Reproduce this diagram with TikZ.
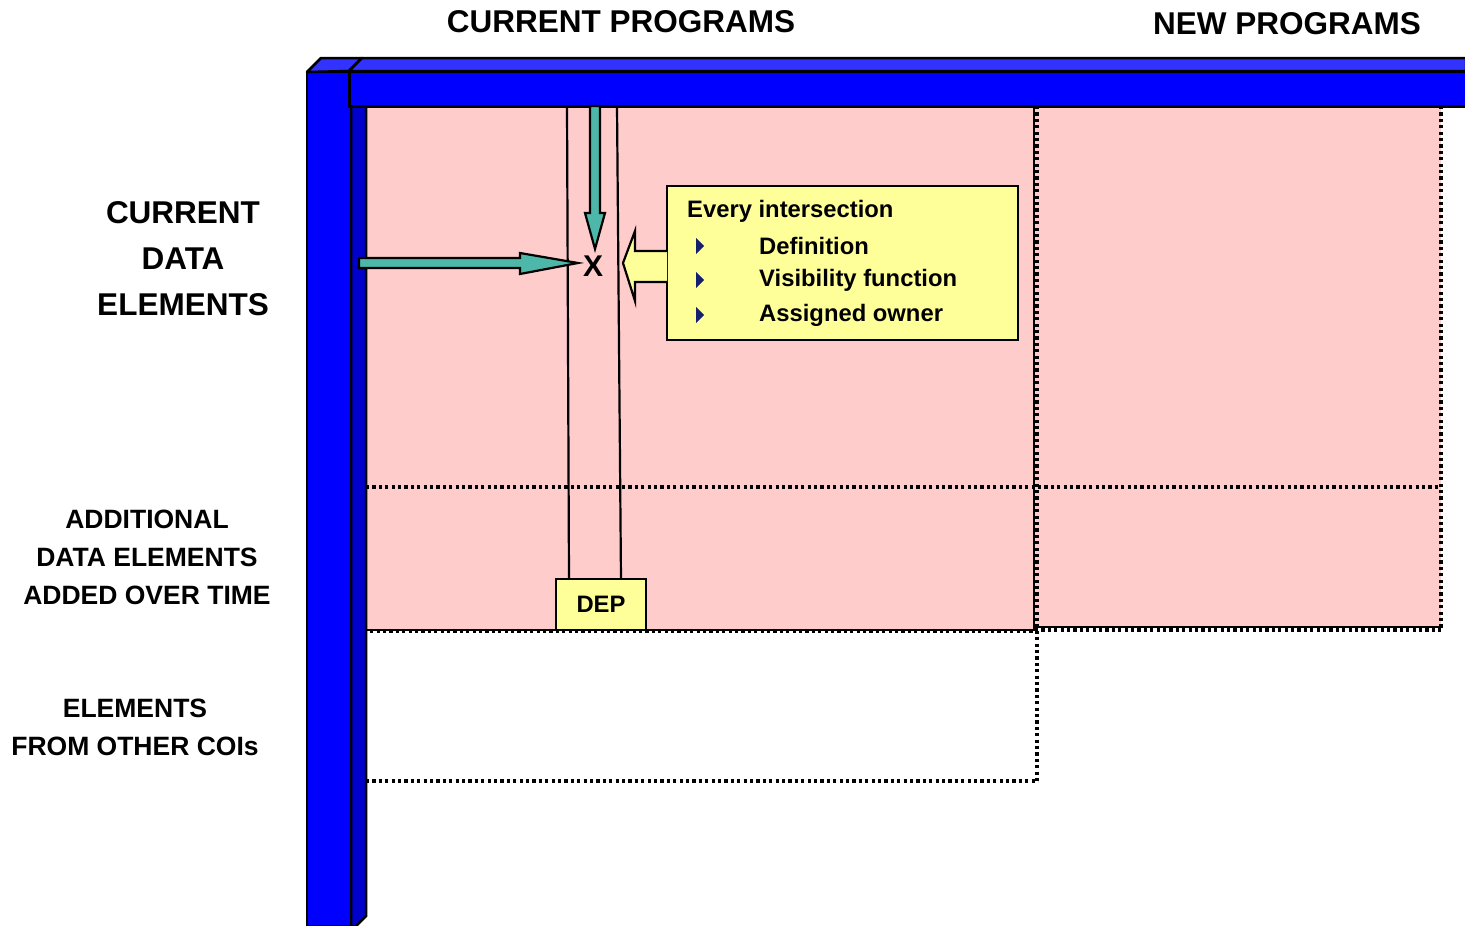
\documentclass[tikz,border=0pt]{standalone}
\usepackage{fontspec}
\setmainfont{Liberation Sans}
\definecolor{fblue}{HTML}{0000FF}
\definecolor{tblue}{HTML}{3333FF}
\definecolor{sblue}{HTML}{0000CC}
\definecolor{pinkbg}{HTML}{FFCCCC}
\definecolor{ylw}{HTML}{FFFF99}
\definecolor{teal2}{HTML}{4DB8AA}
\definecolor{navy2}{HTML}{14206E}
\tikzset{
  lbl/.style={font=\bfseries\fontsize{31.5}{37}\selectfont, inner sep=0pt},
  sublbl/.style={font=\bfseries\fontsize{26.5}{38}\selectfont, inner sep=0pt, align=center},
  boxtxt/.style={font=\bfseries\fontsize{23.8}{28}\selectfont, inner sep=0pt, anchor=west},
  dots/.style={line width=3.2pt, dash pattern=on 3.2pt off 3.2pt},
  bullet/.style={fill=navy2, draw=none},
}
\begin{document}
\begin{tikzpicture}[x=1pt,y=-1pt]
\useasboundingbox (0,0) rectangle (1465,926);
% pink regions
\fill[pinkbg] (366,106) rectangle (1035,630);
\fill[pinkbg] (1035,106) rectangle (1441,627);
% dotted grid
\draw[dots] (366,487) -- (1438,487);
\draw[dots] (1441,106) -- (1441,629);
\draw[line width=2pt] (1035,627) -- (1441,627);
\draw[dots] (1035,630) -- (1443,630);
\draw[line width=2pt] (351,630) -- (1035,630);
\draw[dots] (351,631) -- (1035,631);
\draw[line width=2pt] (1034,106) -- (1034,630);
\draw[dots] (1037,106) -- (1037,781);
\draw[dots] (366,781) -- (1038,781);
% column lines
\draw[line width=2.2pt] (567,106) -- (569,580);
\draw[line width=2.2pt] (617,106) -- (621,580);
% DEP box
\node[draw=black, line width=2.5pt, fill=ylw, minimum width=90pt, minimum height=51pt, inner sep=0pt, font=\bfseries\fontsize{23.8}{28}\selectfont] (dep) at (601,604.5) {DEP};
% vertical bar: side face
\fill[sblue, draw=black, line width=2.5pt] (351,106) -- (366,106) -- (366,916) -- (356,926) -- (351,926) -- cycle;
% vertical bar front
\fill[fblue, draw=black, line width=2.5pt] (307,72) -- (351,72) -- (351,926) -- (307,926) -- cycle;
% top face of vertical bar
\fill[tblue, draw=black, line width=2.5pt, line join=round] (307,72) -- (321,58) -- (362,58) -- (349,71) -- cycle;
% horizontal bar top face
\fill[tblue, draw=black, line width=2.5pt, line join=round] (349,71) -- (362,58) -- (1466,58) -- (1466,71) -- cycle;
% horizontal bar front
\fill[fblue, draw=black, line width=3pt] (349,71) -- (1467,71) -- (1467,106) -- (349,106) -- cycle;
% X
\node[font=\bfseries\fontsize{30}{30}\selectfont, inner sep=0pt] (x) at (593,266) {X};
% down teal arrow
\fill[teal2, draw=black, line width=2.2pt, line join=miter] (590,106) -- (600,106) -- (600,213) -- (605,213) -- (595,249) -- (585,213) -- (590,213) -- cycle;
% right teal arrow
\fill[teal2, draw=black, line width=2.2pt, line join=miter] (359,258) -- (520,258) -- (520,253) -- (578,263) -- (520,274) -- (520,268) -- (359,268) -- cycle;
% yellow box
\node[draw=black, line width=2.5pt, fill=ylw, minimum width=351pt, minimum height=154pt, inner sep=0pt] (box) at (842.5,263) {};
% yellow left arrow
\fill[ylw, draw=black, line width=2.2pt, line join=miter] (667,251) -- (635,251) -- (635,231) -- (623,263) -- (635,301) -- (635,282) -- (667,282);
\node[boxtxt] (t0) at (687,211) {Every intersection};
\node[boxtxt] (t1) at (759,246) {Definition};
\node[boxtxt] (t2) at (759,280) {Visibility function};
\node[boxtxt] (t3) at (759,315) {Assigned owner};
\fill[bullet] (696,238) -- (704,246) -- (696,254) -- cycle;
\fill[bullet] (696,272) -- (704,280) -- (696,288) -- cycle;
\fill[bullet] (696,307) -- (704,315) -- (696,323) -- cycle;
% headers
\node[lbl] (cp) at (621,22) {CURRENT PROGRAMS};
\node[lbl] (np) at (1287,24) {NEW PROGRAMS};
\node[lbl] (l1) at (183,213) {CURRENT};
\node[lbl] (l2) at (183,259) {DATA};
\node[lbl] (l3) at (183,305) {ELEMENTS};
\node[sublbl] (l4) at (147,557) {ADDITIONAL\\DATA ELEMENTS\\ADDED OVER TIME};
\node[sublbl] (l5) at (135,727) {ELEMENTS\\FROM OTHER COIs};
\end{tikzpicture}
\end{document}
